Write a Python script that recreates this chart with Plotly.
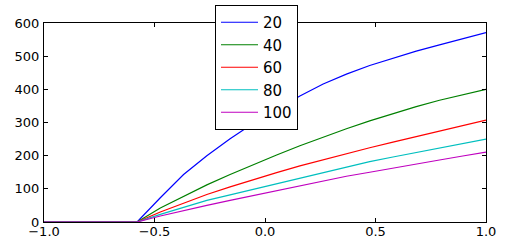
import numpy as np
import plotly.graph_objects as go

# sample positions (20 evenly spaced points on [-1, 1])
x_vals = [-1.0, -0.8947, -0.7895, -0.6842, -0.5789, -0.4737, -0.3684, -0.2632,
          -0.1579, -0.0526, 0.0526, 0.1579, 0.2632, 0.3684, 0.4737, 0.5789,
          0.6842, 0.7895, 0.8947, 1.0]

series_names = ["20", "40", "60", "80", "100"]

s20 = [0, 0, 0, 0, 0, 73, 143, 200, 251, 298, 340, 380, 416, 446, 472, 494, 515, 534, 553, 571]
s40 = [0, 0, 0, 0, 0, 42, 78, 112, 143, 173, 202, 230, 256, 281, 305, 327, 348, 367, 384, 400]
s60 = [0, 0, 0, 0, 0, 30, 57, 83, 106, 128, 149, 169, 188, 206, 224, 241, 258, 275, 291, 307]
s80 = [0, 0, 0, 0, 0, 23, 45, 65, 82, 99, 116, 133, 150, 167, 182, 196, 210, 224, 237, 250]
s100 = [0, 0, 0, 0, 0, 18, 35, 50, 65, 80, 95, 110, 124, 138, 150, 163, 175, 187, 199, 211]

x_ticks = [-1.0, -0.5, 0.0, 0.5, 1.0]
y_ticks = [0, 100, 200, 300, 400, 500, 600]

colors = ["#0000ff", "#008000", "#ff0000", "#00bfbf", "#bf00bf"]

fig = go.Figure()
for name, ys, c in zip(series_names, [s20, s40, s60, s80, s100], colors):
    fig.add_trace(go.Scatter(x=x_vals, y=ys, mode="lines", name=name,
                             legendgroup=name,
                             line=dict(color=c, width=1.2)))

axis_common = dict(showline=True, linecolor="black", linewidth=1, mirror="allticks",
                   ticks="inside", ticklen=4, tickcolor="black", tickwidth=1,
                   showgrid=False, zeroline=False, automargin=False,
                   tickfont=dict(family="DejaVu Sans", size=13, color="black"))

fig.update_xaxes(range=[-1, 1], tickvals=x_ticks, tickformat=".1f",
                 ticklabelstandoff=-3, **axis_common)
fig.update_yaxes(range=[0, 600], tickvals=y_ticks, ticklabelstandoff=1, **axis_common)

fig.update_layout(
    width=506, height=247,
    margin=dict(l=44, r=20, t=23, b=25, autoexpand=False),
    plot_bgcolor="white", paper_bgcolor="white",
    font=dict(family="DejaVu Sans", color="black"),
    legend=dict(xref="container", yref="container",
                x=215 / 506, y=1 - 5 / 247, xanchor="left", yanchor="top",
                bgcolor="white", bordercolor="black", borderwidth=1,
                font=dict(family="DejaVu Sans", size=15, color="black"),
                itemwidth=37,
                traceorder="grouped", tracegroupgap=0, maxheight=240),
    showlegend=True,
)

fig.write_html("out.html")
